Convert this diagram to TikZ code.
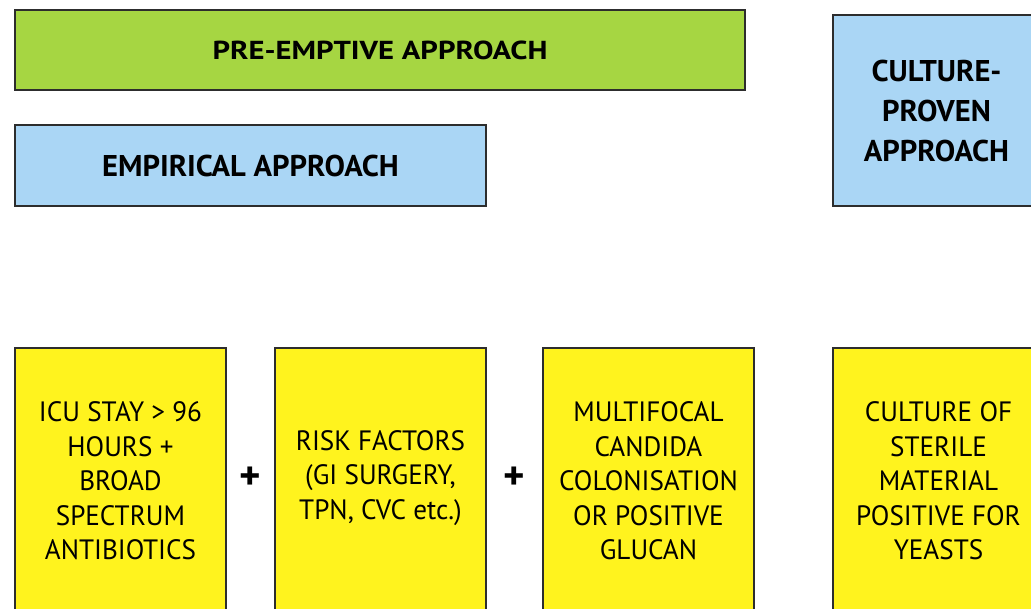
\documentclass[tikz,border=0pt]{standalone}
\usepackage{fontspec}
\usepackage{tikz}
\usetikzlibrary{calc}
\newfontfamily\hdrfont[FakeStretch=1.02]{PT Sans}
\newfontfamily\widehdrfont[FakeStretch=1.18]{PT Sans}
\newfontfamily\boxfont[FakeStretch=0.97]{PT Sans}
\definecolor{preGreen}{RGB}{166,214,66}
\definecolor{apprBlue}{RGB}{170,214,245}
\definecolor{critYellow}{RGB}{255,243,30}
\definecolor{edgeGrey}{RGB}{45,45,45}
\tikzset{
  approachbar/.style={draw=edgeGrey, line width=2.4pt, inner sep=0pt,
    font=\hdrfont\bfseries\fontsize{30}{40}\selectfont, align=center},
  critbox/.style={draw=edgeGrey, line width=2.4pt, fill=critYellow, inner sep=0pt,
    minimum width=211pt, minimum height=266pt,
    font=\boxfont\fontsize{28}{34.5}\selectfont, align=center},
  plussign/.style={font=\hdrfont\bfseries\fontsize{40}{40}\selectfont, inner sep=0pt}
}
\begin{document}
\begin{tikzpicture}[x=1pt, y=-1pt]
		%%%%% START %%%%%
		\useasboundingbox (0, 0) rectangle (1031, 608);
		\clip (0, 0) rectangle (1031, 608);
		
		% approaches
		\node[approachbar, fill=preGreen, minimum width=730pt, minimum height=80pt,
		  font=\widehdrfont\bfseries\fontsize{26}{30}\selectfont] (preemptive) at (380, 50) {PRE-EMPTIVE APPROACH};
		\node[approachbar, fill=apprBlue, minimum width=471pt, minimum height=81pt] (empirical) at (250.5, 165.5) {EMPIRICAL APPROACH};
		\node[approachbar, fill=apprBlue, minimum width=207pt, minimum height=191pt] (cultproven) at (936.5, 110.5) {CULTURE-\\PROVEN\\APPROACH};
		
		% criteria
		\node[critbox] (icustay) at (120.5, 481) {ICU STAY > 96\\HOURS +\\BROAD\\SPECTRUM\\ANTIBIOTICS};
		\node[critbox] (riskfac) at (380.5, 481) {RISK FACTORS\\(GI SURGERY,\\TPN, CVC etc.)\\[-22pt]};
		\node[critbox] (multifoc) at (648.5, 481) {MULTIFOCAL\\CANDIDA\\COLONISATION\\OR POSITIVE\\GLUCAN};
		\node[critbox] (cultsterile) at (938.5, 481) {CULTURE OF\\STERILE\\MATERIAL\\POSITIVE FOR\\YEASTS};
		
		\node[plussign] (plusA) at ($(icustay.east)!0.5!(riskfac.west)+(0,-3)$) {+};
		\node[plussign] (plusB) at ($(riskfac.east)!0.5!(multifoc.west)+(0,-3)$) {+};
		
		%%%%% END %%%%%
	\end{tikzpicture}
\end{document}
